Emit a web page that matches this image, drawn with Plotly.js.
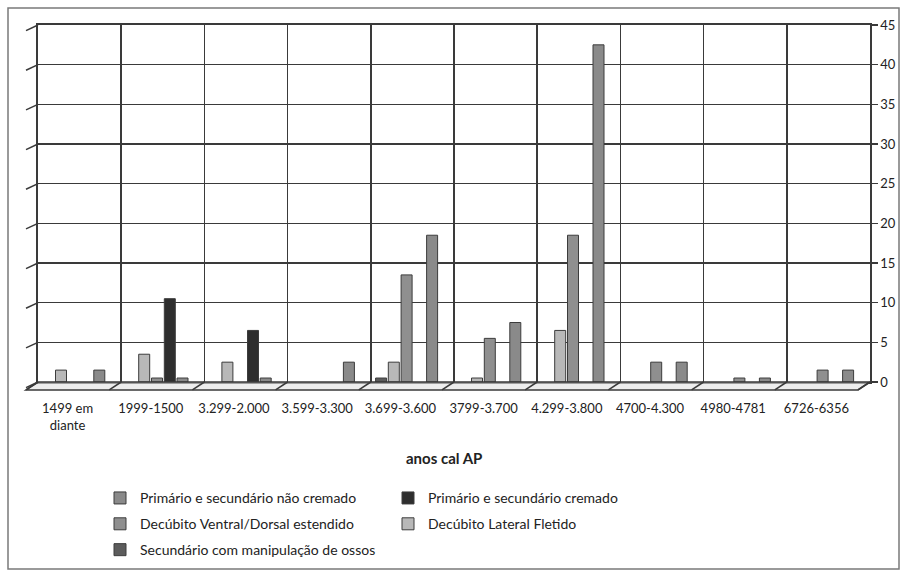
<!DOCTYPE html>
<html>
<head>
<meta charset="utf-8">
<script src="https://cdn.plot.ly/plotly-3.0.1.min.js"></script>
<style>
  html, body { margin: 0; padding: 0; background: #ffffff; }
  #chart { width: 903px; height: 578px; }
</style>
</head>
<body>
<div id="chart"></div>
<script>
// Burial types per calibrated age range (anos cal AP)
const categories = [
  "1499 em<br>diante", "1999-1500", "3.299-2.000", "3.599-3.300", "3.699-3.600",
  "3799-3.700", "4.299-3.800", "4700-4.300", "4980-4781", "6726-6356"
];

const seriesNames = [
  "Primário e secundário não cremado",
  "Primário e secundário cremado",
  "Decúbito Ventral/Dorsal estendido",
  "Decúbito Lateral Fletido",
  "Secundário com manipulação de ossos"
];

const naoCremado      = [1.5, 0.5, 0.5, 2.5, 18.5, 7.5, 42.5, 2.5, 0.5, 1.5];
const cremado         = [null, 10.5, 6.5, null, null, null, null, null, null, null];
const ventralDorsal   = [null, 0.5, null, null, 13.5, 5.5, 18.5, 2.5, 0.5, 1.5];
const lateralFletido  = [1.5, 3.5, 2.5, null, 2.5, 0.5, 6.5, null, null, null];
const manipulacao     = [null, null, null, null, 0.5, null, null, null, null, null];

const yTicks = [0, 5, 10, 15, 20, 25, 30, 35, 40, 45];

// ---- geometry of the plotting area (pixels) ----
const W = 903, H = 578;
const M = { l: 38, r: 33, t: 25, b: 194 };
const PW = W - M.l - M.r, PH = H - M.t - M.b;
const catPx = PW / categories.length;
const px2x = px => (px - M.l) / PW;
const py2y = py => (M.t + PH - py) / PH;

// Drawing slot of each series inside a category (distance from the
// category's left boundary, px) – the clusters sit slightly left of the
// back wall because of the 3-D depth.
const slotPx = [61.3, 48.6, 35.8, 23.0, 10.3];
const barPx = 11;
const colors = ["#8a8a8a", "#2e2e2e", "#8f8f8f", "#b8b8b8", "#5c5c5c"];
const values = [naoCremado, cremado, ventralDorsal, lateralFletido, manipulacao];
// legend rows: two entries per row
const legendOf = ["legend", "legend", "legend2", "legend2", "legend3"];

const traces = values.map((vals, i) => ({
  type: "bar",
  name: seriesNames[i],
  legend: legendOf[i],
  x: categories,
  y: vals,
  width: barPx / catPx,
  offset: (slotPx[i] - catPx / 2 - barPx / 2) / catPx,
  marker: { color: colors[i], line: { color: "#3c3c3c", width: 1 } },
  hoverinfo: "x+y+name"
}));

// ---- 3-D floor and wall decorations ----
const depth = { dx: -12, dy: 8 };
const lineStyle = { color: "#3a3a3a", width: 1.5 };
const shapes = [];

const floorBackY = M.t + PH;
const L = M.l, R = M.l + PW;
shapes.push({
  type: "path", xref: "paper", yref: "paper", layer: "above",
  path: `M${px2x(L)},${py2y(floorBackY)} L${px2x(R)},${py2y(floorBackY)} ` +
        `L${px2x(R + depth.dx)},${py2y(floorBackY + depth.dy)} ` +
        `L${px2x(L + depth.dx)},${py2y(floorBackY + depth.dy)} Z`,
  fillcolor: "rgba(225,225,225,0.6)", line: lineStyle
});
for (let k = 0; k <= categories.length; k++) {
  const bx = L + k * catPx;
  shapes.push({
    type: "line", xref: "paper", yref: "paper", layer: "above",
    x0: px2x(bx), y0: py2y(floorBackY),
    x1: px2x(bx + depth.dx), y1: py2y(floorBackY + depth.dy),
    line: lineStyle
  });
}
yTicks.forEach(v => {
  const py = M.t + PH - (v / 45) * PH;
  shapes.push({
    type: "line", xref: "paper", yref: "paper", layer: "above",
    x0: px2x(L), y0: py2y(py),
    x1: px2x(L + depth.dx), y1: py2y(py + depth.dy * 0.7),
    line: lineStyle
  });
});

// outer chart border
shapes.push({
  type: "rect", xref: "paper", yref: "paper", layer: "below",
  x0: px2x(8), x1: px2x(899), y0: py2y(572), y1: py2y(8),
  line: { color: "#7a7a7a", width: 1.5 }, fillcolor: "rgba(0,0,0,0)"
});

const font = "Lato, 'Open Sans', sans-serif";

function legendRow(centerPy) {
  return {
    orientation: "h",
    x: px2x(100), xanchor: "left",
    y: py2y(centerPy), yanchor: "middle",
    entrywidth: 243, entrywidthmode: "pixels",
    font: { size: 14, family: font, color: "#222" },
    bgcolor: "rgba(0,0,0,0)",
    borderwidth: 0
  };
}

const layout = {
  width: W, height: H,
  margin: M,
  paper_bgcolor: "#ffffff",
  plot_bgcolor: "#ffffff",
  font: { family: font, color: "#222222", size: 13 },
  showlegend: true,
  barmode: "group",
  xaxis: {
    type: "category",
    tickson: "boundaries",
    ticks: "",
    showgrid: true, gridcolor: "#3a3a3a", gridwidth: 1.6,
    showline: true, mirror: true, linecolor: "#3a3a3a", linewidth: 1.6,
    ticklabelshift: -12,
    ticklabelstandoff: 14,
    tickfont: { size: 13, family: font, color: "#222" },
    fixedrange: true
  },
  yaxis: {
    side: "right",
    range: [0, 45],
    tickvals: yTicks,
    ticks: "outside", ticklen: 6, tickcolor: "#3a3a3a", tickwidth: 1.2,
    showgrid: true, gridcolor: "#3a3a3a", gridwidth: 1.6,
    showline: true, mirror: true, linecolor: "#3a3a3a", linewidth: 1.6,
    zeroline: false,
    tickfont: { size: 13, family: font, color: "#222" },
    fixedrange: true
  },
  legend: legendRow(501),
  legend2: legendRow(527),
  legend3: legendRow(553),
  annotations: [{
    text: "<b>anos cal AP</b>",
    xref: "paper", yref: "paper",
    x: px2x(444), y: py2y(460),
    xanchor: "center", yanchor: "middle",
    showarrow: false,
    font: { size: 15, family: font, color: "#222" }
  }],
  shapes: shapes
};

Plotly.newPlot("chart", traces, layout, { displayModeBar: false, staticPlot: true });
</script>
</body>
</html>
